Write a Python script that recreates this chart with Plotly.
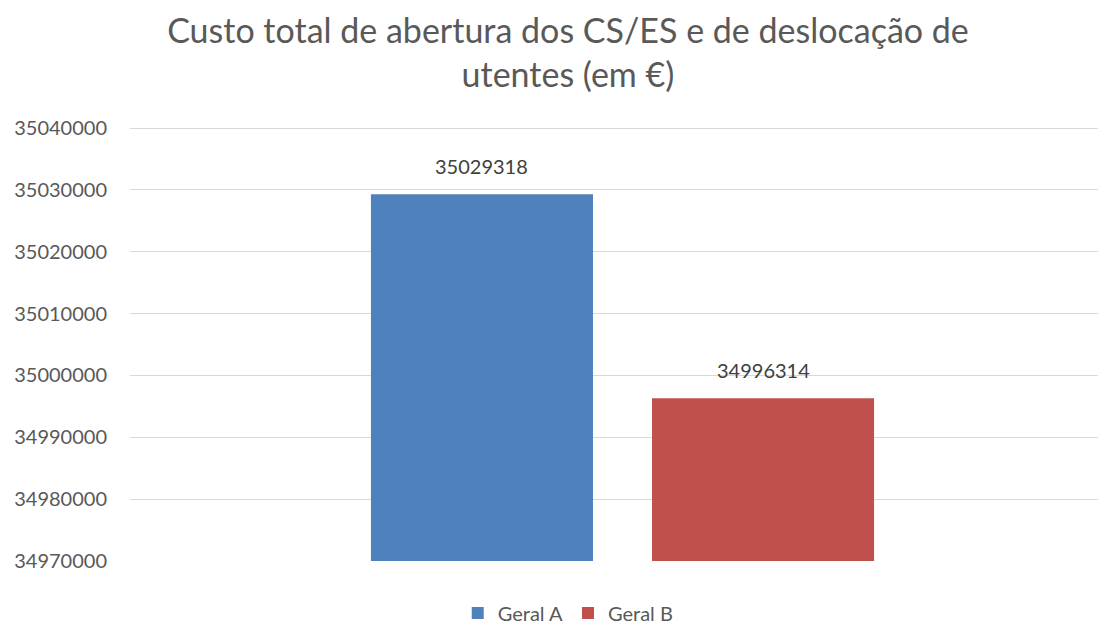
import plotly.graph_objects as go

categories = ["Custo"]
series_names = ["Geral A", "Geral B"]
values = [35029318, 34996314]
colors = ["#4F81BD", "#C0504D"]
y_ticks = [34970000, 34980000, 34990000, 35000000, 35010000, 35020000, 35030000, 35040000]

FONT = "Lato"
BARGAP = 0.424
BARGROUPGAP = 0.21

fig = go.Figure()
for name, val, col in zip(series_names, values, colors):
    fig.add_trace(go.Bar(
        x=categories, y=[val], name=name,
        marker=dict(color=col, line=dict(width=0)),
    ))

# data labels above each bar, centred on the bar slot computed from the group layout
n = len(series_names)
slot = (1 - BARGAP) / n
for i, val in enumerate(values):
    xc = -(1 - BARGAP) / 2 + slot * (i + 0.5)
    fig.add_annotation(x=xc, y=val, xref="x", yref="y", text=str(val),
                       showarrow=False, yanchor="middle", yshift=28,
                       font=dict(family=FONT, size=20, color="#404040"))

fig.update_layout(
    width=1098, height=634,
    paper_bgcolor="white", plot_bgcolor="white",
    barmode="group", bargap=BARGAP, bargroupgap=BARGROUPGAP,
    margin=dict(l=122, r=0, t=117, b=81),
    title=dict(
        text="Custo total de abertura dos CS/ES e de deslocação de<br>utentes (em €)",
        x=0.510, xanchor="center", y=0.9448, yanchor="middle",
        font=dict(family=FONT, size=34, color="#595959"),
    ),
    xaxis=dict(showticklabels=False, showgrid=False, zeroline=False,
               range=[-0.5046, 0.4954], fixedrange=True),
    yaxis=dict(range=[34970000, 35040500], tickvals=y_ticks,
               ticktext=[str(t) for t in y_ticks],
               showgrid=True, gridcolor="#D9D9D9", gridwidth=1,
               zeroline=False, showline=False,
               tickfont=dict(family=FONT, size=20, color="#595959"),
               ticks="", ticklabelstandoff=22),
    legend=dict(orientation="h", x=0.449, xanchor="center", y=-0.119, yanchor="middle",
                font=dict(family=FONT, size=20, color="#595959"),
                itemwidth=30, traceorder="normal"),
    showlegend=True,
)

fig.write_html("out.html")
